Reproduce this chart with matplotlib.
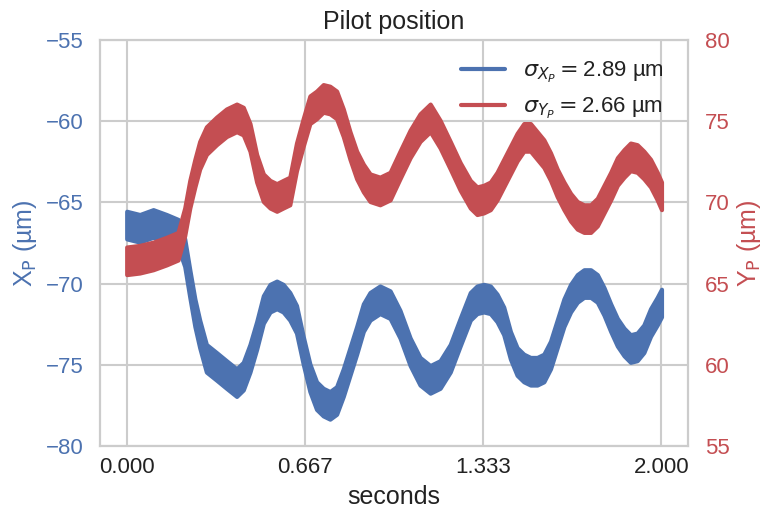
import numpy as np
import matplotlib
matplotlib.use("Agg")
import matplotlib.pyplot as plt
import seaborn as sns
from matplotlib.lines import Line2D

sns.set_theme(context="talk", style="whitegrid")
plt.rcParams['font.family'] = ['Liberation Sans', 'DejaVu Sans']

# Blue: X_P (left axis), centre of the noisy trace (seconds, µm)
t_x = [0.0, 0.049, 0.099, 0.149, 0.192, 0.217, 0.236, 0.255, 0.273, 0.298, 0.336, 0.373,
       0.411, 0.436, 0.461, 0.486, 0.511, 0.536, 0.561, 0.585, 0.610, 0.635, 0.660, 0.685,
       0.710, 0.735, 0.760, 0.785, 0.810, 0.835, 0.860, 0.885, 0.910, 0.947, 0.985, 1.022,
       1.060, 1.097, 1.135, 1.172, 1.210, 1.247, 1.285, 1.310, 1.335, 1.360, 1.385, 1.410,
       1.435, 1.460, 1.485, 1.510, 1.535, 1.560, 1.585, 1.610, 1.635, 1.660, 1.685, 1.710,
       1.735, 1.760, 1.785, 1.810, 1.835, 1.860, 1.884, 1.909, 1.934, 1.959, 1.984, 2.0]
x_p = [-66.4, -66.6, -66.3, -66.6, -66.9, -68.1, -70.0, -71.8, -73.1, -74.6, -75.1, -75.6,
       -76.1, -75.7, -74.6, -73.2, -71.6, -70.9, -70.7, -70.9, -71.4, -72.2, -74.1, -75.8,
       -76.9, -77.3, -77.5, -77.2, -76.1, -74.8, -73.5, -72.1, -71.4, -71.0, -71.3, -72.5,
       -74.2, -75.4, -75.9, -75.6, -74.6, -73.0, -71.4, -71.0, -70.9, -71.0, -71.5, -72.3,
       -73.8, -74.8, -75.2, -75.4, -75.4, -75.2, -74.4, -73.1, -71.8, -70.9, -70.3, -70.0,
       -70.0, -70.3, -71.1, -72.1, -73.0, -73.6, -74.0, -73.9, -73.4, -72.4, -71.7, -71.2]

# Red: Y_P (right axis)
t_y = t_x
y_p = [66.4, 66.5, 66.7, 67.0, 67.3, 68.8, 70.5, 71.8, 72.9, 73.8, 74.4, 74.9,
       75.2, 75.0, 74.0, 72.1, 70.9, 70.5, 70.3, 70.5, 70.7, 72.8, 74.3, 75.7,
       76.0, 76.4, 76.3, 76.0, 74.9, 73.5, 72.3, 71.5, 70.9, 70.7, 71.0, 72.3,
       73.6, 74.6, 75.2, 74.2, 72.9, 71.6, 70.5, 70.1, 70.2, 70.4, 71.0, 71.8,
       72.6, 73.4, 74.0, 74.0, 73.5, 73.0, 72.2, 71.2, 70.4, 69.7, 69.2, 69.0,
       69.0, 69.4, 70.2, 71.0, 71.9, 72.4, 72.8, 72.7, 72.3, 71.8, 71.0, 70.4]

band_x = 0.85
band_y = 0.85
sig_x = "2.89"
sig_y = "2.66"
xticks = [0.0, 0.667, 1.333, 2.0]
xticklabels = ["0.000", "0.667", "1.333", "2.000"]

blue = "#4C72B0"
red = "#C44E52"

fig = plt.figure(figsize=(7.63, 5.12), dpi=100)
ax = fig.add_axes([0.131, 0.129, 0.771, 0.793])
ax2 = ax.twinx()

tx = np.array(t_x); xx = np.array(x_p)
ty = np.array(t_y); yy = np.array(y_p)
ax.fill_between(tx, xx - band_x, xx + band_x, color=blue, lw=3, edgecolor=blue, zorder=3)
ax2.fill_between(ty, yy - band_y, yy + band_y, color=red, lw=3, edgecolor=red, zorder=3)

ax.set_xlim(-0.1, 2.1)
ax.set_ylim(-80, -55)
ax2.set_ylim(55, 80)
ax.set_xticks(xticks)
ax.set_xticklabels(xticklabels)
ax.set_yticks([-80, -75, -70, -65, -60, -55])
ax2.set_yticks([55, 60, 65, 70, 75, 80])
ax2.grid(False)
ax.grid(True, color='#cccccc', lw=1.5)

ax.tick_params(axis='x', labelsize=16, colors='#222222', length=0, pad=8)
ax.tick_params(axis='y', labelsize=16, colors=blue, length=0, pad=12)
ax2.tick_params(axis='y', labelsize=16, colors=red, length=0, pad=12)
ax.set_xlabel("seconds", fontsize=18, color='#222222', labelpad=5)
ax.set_ylabel(r"X$_\mathrm{P}$ (µm)", fontsize=18, color=blue, labelpad=5)
ax2.set_ylabel(r"Y$_\mathrm{P}$ (µm)", fontsize=18, color=red, labelpad=4)
ax.set_title("Pilot position", fontsize=18, color='#222222', pad=8)

for a in (ax, ax2):
    for s in a.spines.values():
        s.set_color('#cccccc')
        s.set_linewidth(1.5)

handles = [Line2D([0], [0], color=blue, lw=3),
           Line2D([0], [0], color=red, lw=3)]
labels = [r"$\sigma_{X_P} =$" + sig_x + " µm", r"$\sigma_{Y_P} =$" + sig_y + " µm"]
leg = ax2.legend(handles, labels, loc='upper right', fontsize=16, frameon=False,
                 handlelength=2.0, bbox_to_anchor=(0.993, 1.0))
for txt in leg.get_texts():
    txt.set_color('#222222')

fig.savefig("out.png", dpi=100)
